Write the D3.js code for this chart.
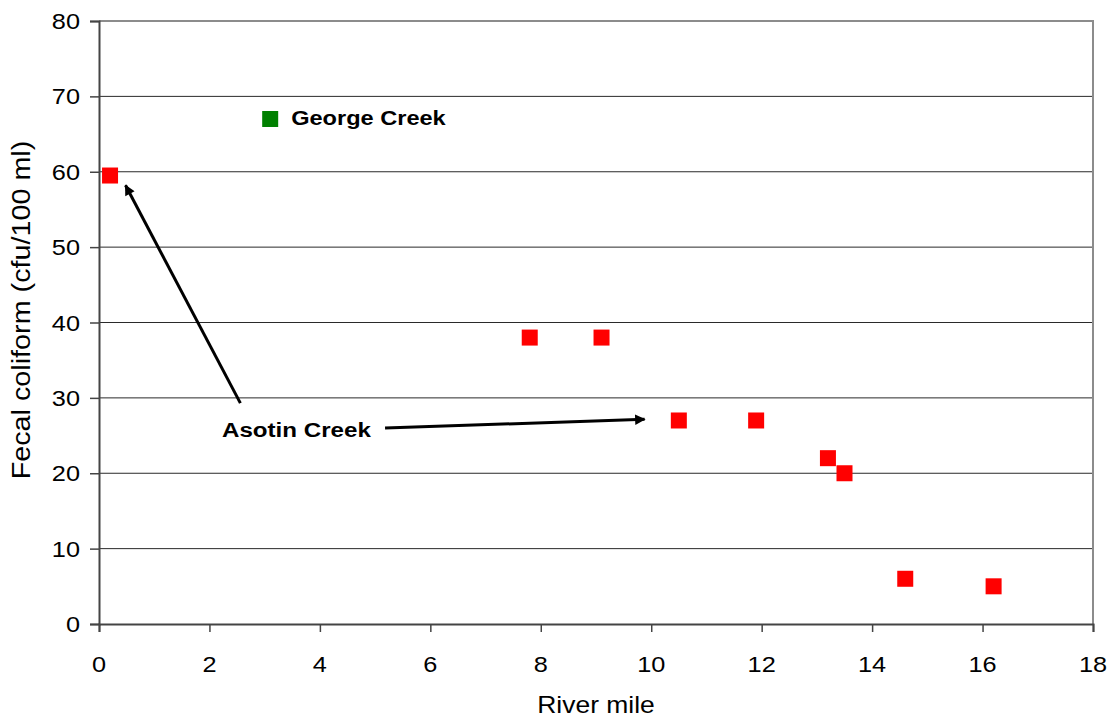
<!DOCTYPE html>
<html>
<head>
<meta charset="utf-8">
<script src="https://cdn.jsdelivr.net/npm/d3@7/dist/d3.min.js"></script>
<style>
  html, body { margin: 0; padding: 0; background: #fff; }
  svg { display: block; }
  text { font-family: "Liberation Sans", Arial, Helvetica, sans-serif; fill: #000; }
</style>
</head>
<body>
<script>
// Sampling sites along the river: river mile vs fecal coliform
const asotinMiles = [0.2, 7.8, 9.1, 10.5, 11.9, 13.2, 13.5, 14.6, 16.2];
const asotinColiform = [59.5, 38, 38, 27, 27, 22, 20, 6, 5];
const georgeMiles = [3.1];
const georgeColiform = [67];
const xTicks = [0, 2, 4, 6, 8, 10, 12, 14, 16, 18];
const yTicks = [0, 10, 20, 30, 40, 50, 60, 70, 80];

// Annotation arrows (data units): [fromX, fromY, toX, toY]
const asotinArrows = [
  [2.56, 29.3, 0.48, 58.2],
  [5.18, 26.0, 9.88, 27.15]
];

const W = 1110, H = 719;
const margin = { left: 99, right: 17, top: 21, bottom: 95 };
const svg = d3.select("body").append("svg").attr("width", W).attr("height", H);

const x = d3.scaleLinear().domain([0, 18]).range([margin.left, W - margin.right]);
const y = d3.scaleLinear().domain([0, 80]).range([H - margin.bottom, margin.top]);

const SX = 1.15; // horizontal widening of the typeface

function label(g, tx, ty, str, size, anchor, weight, rot) {
  const t = g.append("text")
    .attr("transform", `translate(${tx},${ty})` + (rot ? ` rotate(${rot})` : "") + ` scale(${SX},1)`)
    .attr("text-anchor", anchor)
    .style("font-size", size + "px")
    .style("font-weight", weight || "normal")
    .text(str);
  return t;
}

// Horizontal gridlines
svg.append("g").selectAll("line").data(yTicks.filter(v => v > 0 && v < 80)).join("line")
  .attr("x1", x(0)).attr("x2", x(18))
  .attr("y1", d => y(d)).attr("y2", d => y(d))
  .attr("stroke", "#2a2a2a").attr("stroke-width", 1);

// Plot frame (top and right edges)
svg.append("path")
  .attr("d", `M${x(0)},${y(80)}H${x(18)}V${y(0)}`)
  .attr("fill", "none").attr("stroke", "#8c8c8c").attr("stroke-width", 2);

// Y axis
const yAxis = svg.append("g").attr("transform", `translate(${x(0)},0)`)
  .call(d3.axisLeft(y).tickValues(yTicks).tickSize(9).tickFormat(""));
yAxis.select(".domain").attr("stroke", "#444").attr("stroke-width", 2);
yAxis.selectAll(".tick line").attr("stroke", "#444").attr("stroke-width", 1.5);
const yl = svg.append("g");
yTicks.forEach(v => label(yl, 80, y(v) + 8, String(v), 22, "end"));

// X axis
const xAxis = svg.append("g").attr("transform", `translate(0,${y(0)})`)
  .call(d3.axisBottom(x).tickValues(xTicks).tickSize(8).tickFormat(""));
xAxis.select(".domain").attr("stroke", "#444").attr("stroke-width", 2);
xAxis.selectAll(".tick line").attr("stroke", "#444").attr("stroke-width", 1.5);
const xl = svg.append("g");
xTicks.forEach(v => label(xl, x(v), 672, String(v), 22, "middle"));

// Axis titles
label(svg, (x(0) + x(18)) / 2, 713, "River mile", 23, "middle");
label(svg, 30, 310, "Fecal coliform (cfu/100 ml)", 25, "middle", "normal", -90);

// Markers
const S = 16;
svg.append("g").selectAll("rect").data(asotinMiles.map((m, i) => [m, asotinColiform[i]])).join("rect")
  .attr("x", d => x(d[0]) - S / 2).attr("y", d => y(d[1]) - S / 2)
  .attr("width", S).attr("height", S).attr("fill", "#ff0000");
svg.append("g").selectAll("rect").data(georgeMiles.map((m, i) => [m, georgeColiform[i]])).join("rect")
  .attr("x", d => x(d[0]) - S / 2).attr("y", d => y(d[1]) - S / 2)
  .attr("width", S).attr("height", S).attr("fill", "#008000");

// Labels
label(svg, x(georgeMiles[0]) + 21, y(georgeColiform[0]) + 6, "George Creek", 20.5, "start", "bold");
label(svg, 222, 437, "Asotin Creek", 21, "start", "bold");

// Arrows
svg.append("defs").append("marker")
  .attr("id", "head").attr("viewBox", "0 0 10 10").attr("refX", 9).attr("refY", 5)
  .attr("markerWidth", 4.5).attr("markerHeight", 3.5).attr("orient", "auto")
  .attr("markerUnits", "strokeWidth")
  .append("path").attr("d", "M0,0L10,5L0,10Z").attr("fill", "#000");
svg.append("g").selectAll("line").data(asotinArrows).join("line")
  .attr("x1", d => x(d[0])).attr("y1", d => y(d[1]))
  .attr("x2", d => x(d[2])).attr("y2", d => y(d[3]))
  .attr("stroke", "#000").attr("stroke-width", 3)
  .attr("marker-end", "url(#head)");
</script>
</body>
</html>
